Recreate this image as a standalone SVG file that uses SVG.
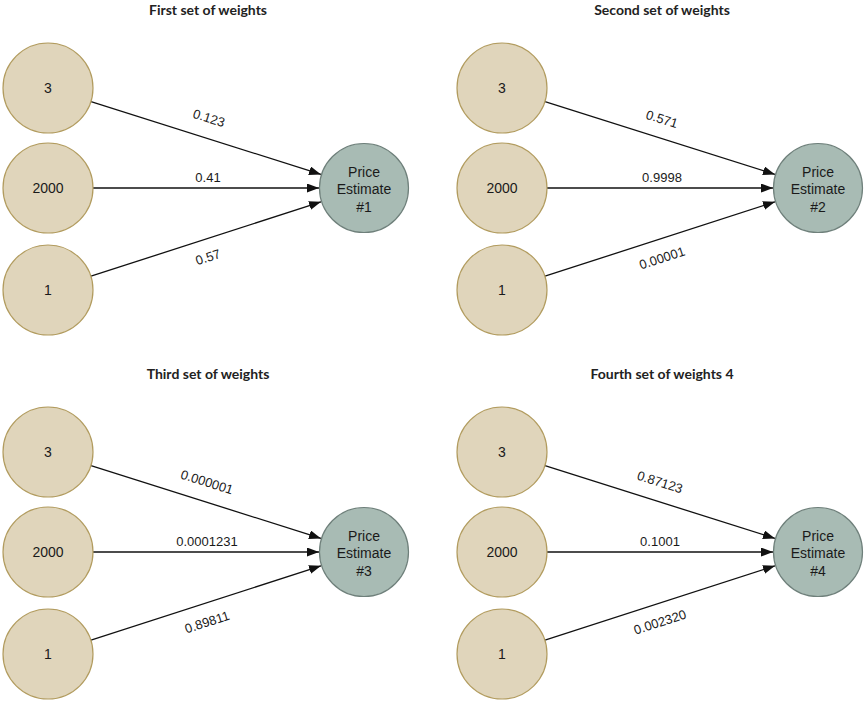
<svg xmlns="http://www.w3.org/2000/svg" width="865" height="701" viewBox="0 0 865 701">
<defs>
<style>
.in{fill:#e0d5bb;stroke:#b29c5f;stroke-width:1.2}
.out{fill:#a8bbb4;stroke:#6f807b;stroke-width:1.2}
.nt{font-family:"Liberation Sans",Arial,sans-serif;font-size:14px;fill:#1a1a1a;text-anchor:middle}
.lt{font-family:"Liberation Sans",Arial,sans-serif;font-size:13px;fill:#1a1a1a;text-anchor:middle}
.tt{font-family:Lato,"Open Sans",sans-serif;font-weight:bold;font-size:14px;fill:#222;text-anchor:middle}
.e{stroke:#111;stroke-width:1.3;fill:none;marker-end:url(#ah)}
</style>
<marker id="ah" markerUnits="userSpaceOnUse" markerWidth="13" markerHeight="10" refX="12" refY="4.5" orient="auto">
<path d="M0,0 L12,4.5 L0,9 Z" fill="#111"/>
</marker>
<g id="panel-edges">
<line class="e" x1="91" y1="101.6" x2="321" y2="174.4"/>
<line class="e" x1="93" y1="188" x2="319" y2="188"/>
<line class="e" x1="91" y1="276.2" x2="321" y2="201.8"/>
</g>
</defs>

<g id="titles">
<text class="tt" x="208" y="15">First set of weights</text>
<text class="tt" x="662" y="15">Second set of weights</text>
<text class="tt" x="208" y="379">Third set of weights</text>
<text class="tt" x="662" y="379">Fourth set of weights 4</text>
</g>

<g id="connectors">
<use href="#panel-edges"/>
<use href="#panel-edges" transform="translate(454,0)"/>
<use href="#panel-edges" transform="translate(0,364)"/>
<use href="#panel-edges" transform="translate(454,364)"/>
</g>

<g id="edge-labels">
<text class="lt" transform="translate(209,118) rotate(17.6)" dy="0.35em">0.123</text>
<text class="lt" x="208" y="177" dy="0.35em">0.41</text>
<text class="lt" transform="translate(208,257) rotate(-17.9)" dy="0.35em">0.57</text>

<text class="lt" transform="translate(662,119) rotate(17.6)" dy="0.35em">0.571</text>
<text class="lt" x="662" y="177" dy="0.35em">0.9998</text>
<text class="lt" transform="translate(662,258) rotate(-17.9)" dy="0.35em">0.00001</text>

<text class="lt" transform="translate(207,482) rotate(17.6)" dy="0.35em">0.000001</text>
<text class="lt" x="207" y="541" dy="0.35em">0.0001231</text>
<text class="lt" transform="translate(207,622) rotate(-17.9)" dy="0.35em">0.89811</text>

<text class="lt" transform="translate(660,482) rotate(17.6)" dy="0.35em">0.87123</text>
<text class="lt" x="660" y="541" dy="0.35em">0.1001</text>
<text class="lt" transform="translate(660,622) rotate(-17.9)" dy="0.35em">0.002320</text>
</g>

<g id="p1-in-3"><circle class="in" cx="48" cy="88" r="45"/><text class="nt" x="48" y="93">3</text></g>
<g id="p1-in-2000"><circle class="in" cx="48" cy="188" r="45"/><text class="nt" x="48" y="193">2000</text></g>
<g id="p1-in-1"><circle class="in" cx="48" cy="290" r="45"/><text class="nt" x="48" y="295">1</text></g>
<g id="p1-out"><circle class="out" cx="364" cy="188" r="44.5"/><text class="nt" x="364" y="177">Price</text><text class="nt" x="364" y="194">Estimate</text><text class="nt" x="364" y="212">#1</text></g>

<g id="p2-in-3"><circle class="in" cx="502" cy="88" r="45"/><text class="nt" x="502" y="93">3</text></g>
<g id="p2-in-2000"><circle class="in" cx="502" cy="188" r="45"/><text class="nt" x="502" y="193">2000</text></g>
<g id="p2-in-1"><circle class="in" cx="502" cy="290" r="45"/><text class="nt" x="502" y="295">1</text></g>
<g id="p2-out"><circle class="out" cx="818" cy="188" r="44.5"/><text class="nt" x="818" y="177">Price</text><text class="nt" x="818" y="194">Estimate</text><text class="nt" x="818" y="212">#2</text></g>

<g id="p3-in-3"><circle class="in" cx="48" cy="452" r="45"/><text class="nt" x="48" y="457">3</text></g>
<g id="p3-in-2000"><circle class="in" cx="48" cy="552" r="45"/><text class="nt" x="48" y="557">2000</text></g>
<g id="p3-in-1"><circle class="in" cx="48" cy="654" r="45"/><text class="nt" x="48" y="659">1</text></g>
<g id="p3-out"><circle class="out" cx="364" cy="552" r="44.5"/><text class="nt" x="364" y="541">Price</text><text class="nt" x="364" y="558">Estimate</text><text class="nt" x="364" y="576">#3</text></g>

<g id="p4-in-3"><circle class="in" cx="502" cy="452" r="45"/><text class="nt" x="502" y="457">3</text></g>
<g id="p4-in-2000"><circle class="in" cx="502" cy="552" r="45"/><text class="nt" x="502" y="557">2000</text></g>
<g id="p4-in-1"><circle class="in" cx="502" cy="654" r="45"/><text class="nt" x="502" y="659">1</text></g>
<g id="p4-out"><circle class="out" cx="818" cy="552" r="44.5"/><text class="nt" x="818" y="541">Price</text><text class="nt" x="818" y="558">Estimate</text><text class="nt" x="818" y="576">#4</text></g>
</svg>
